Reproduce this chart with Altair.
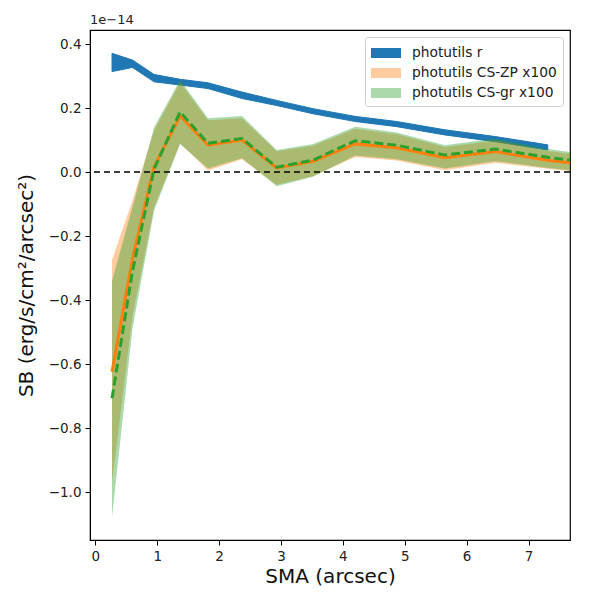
import altair as alt
import pandas as pd

# semi-major axis (arcsec)
sma_r = [0.27, 0.60, 0.95, 1.37, 1.82, 2.37, 2.93, 3.52, 4.20, 4.87, 5.65, 6.46, 7.31]
sma_cs = [0.27, 0.60, 0.95, 1.37, 1.82, 2.37, 2.93, 3.52, 4.20, 4.87, 5.65, 6.46, 7.31, 7.67]

# photutils r band (units of 1e-14)
r_lo = [0.314, 0.327, 0.282, 0.272, 0.261, 0.230, 0.208, 0.182, 0.158, 0.142, 0.116, 0.095, 0.069]
r_hi = [0.371, 0.350, 0.305, 0.290, 0.279, 0.250, 0.224, 0.198, 0.174, 0.158, 0.132, 0.111, 0.085]

# photutils CS-ZP x100
zp_mid = [-0.624, -0.27, 0.017, 0.175, 0.084, 0.100, 0.013, 0.034, 0.088, 0.076, 0.045, 0.064, 0.037, 0.029]
zp_lo = [-0.97, -0.45, -0.11, 0.09, 0.005, 0.040, -0.040, -0.012, 0.047, 0.036, 0.006, 0.029, 0.010, 0.003]
zp_hi = [-0.275, -0.09, 0.13, 0.28, 0.162, 0.168, 0.065, 0.082, 0.135, 0.118, 0.078, 0.099, 0.066, 0.057]

# photutils CS-gr x100
gr_mid = [-0.707, -0.31, 0.010, 0.188, 0.090, 0.105, 0.015, 0.0375, 0.098, 0.084, 0.053, 0.072, 0.046, 0.0375]
gr_lo = [-1.077, -0.49, -0.12, 0.088, 0.011, 0.043, -0.044, -0.015, 0.052, 0.040, 0.011, 0.034, 0.013, 0.006]
gr_hi = [-0.34, -0.11, 0.14, 0.288, 0.168, 0.175, 0.069, 0.0875, 0.142, 0.124, 0.084, 0.105, 0.072, 0.063]

names = ["photutils r", "photutils CS-ZP x100", "photutils CS-gr x100"]
colors = ["#1f77b4", "#ff7f0e", "#2ca02c"]

df_r = pd.DataFrame({"sma": sma_r, "lo": r_lo, "hi": r_hi, "series": names[0]})
df_zp = pd.DataFrame({"sma": sma_cs, "lo": zp_lo, "hi": zp_hi, "mid": zp_mid, "series": names[1]})
df_gr = pd.DataFrame({"sma": sma_cs, "lo": gr_lo, "hi": gr_hi, "mid": gr_mid, "series": names[2]})

xscale = alt.Scale(domain=[-0.086, 7.67], nice=False, zero=False)
yscale = alt.Scale(domain=[-1.15, 0.444], nice=False, zero=False)

X = alt.X("sma:Q", scale=xscale, title="SMA (arcsec)",
          axis=alt.Axis(values=[0, 1, 2, 3, 4, 5, 6, 7], format="d"))
Y = alt.Y("lo:Q", scale=yscale, title="SB (erg/s/cm²/arcsec²)",
          axis=alt.Axis(values=[-1.0, -0.8, -0.6, -0.4, -0.2, 0.0, 0.2, 0.4], format=".1f"))

color = alt.Color("series:N", title=None,
                  scale=alt.Scale(domain=names, range=colors),
                  legend=alt.Legend(
                      orient="top-right", offset=7,
                      symbolType="M-1,-0.5H2V0.5H-1Z", symbolSize=400,
                      symbolStrokeWidth=0, labelOffset=21,
                      labelFontSize=13.8, labelFont="DejaVu Sans", labelColor="#222",
                      fillColor="white", strokeColor="#cccccc", cornerRadius=3,
                      padding=6, rowPadding=3))
opacity = alt.Opacity("series:N", title=None,
                      scale=alt.Scale(type="ordinal", domain=names, range=[1.0, 0.4, 0.4]))

band_r = alt.Chart(df_r).mark_area(clip=True, stroke="#1f77b4", strokeWidth=1).encode(
    x=X, y=Y, y2="hi:Q", color=color, opacity=opacity)
band_zp = alt.Chart(df_zp).mark_area(clip=True).encode(
    x=X, y=Y, y2="hi:Q", color=color, opacity=opacity)
band_gr = alt.Chart(df_gr).mark_area(clip=True).encode(
    x=X, y=Y, y2="hi:Q", color=color, opacity=opacity)

line_zp = alt.Chart(df_zp).mark_line(clip=True, color="#ff7f0e", strokeWidth=3).encode(
    x="sma:Q", y="mid:Q")
line_gr = alt.Chart(df_gr).mark_line(clip=True, color="#2ca02c", strokeWidth=3,
                                     strokeDash=[9, 4]).encode(x="sma:Q", y="mid:Q")

zero = alt.Chart(pd.DataFrame({"z": [0.0]})).mark_rule(
    color="black", strokeWidth=1.5, strokeDash=[6, 4]).encode(y="z:Q")

chart = alt.layer(band_r, band_zp, band_gr, line_zp, line_gr, zero).properties(
    width=480, height=510,
    autosize=alt.AutoSizeParams(type="none"),
    padding={"left": 82, "top": 22, "right": 14, "bottom": 52},
    title=alt.TitleParams(text="1e−14", anchor="start", frame="group", fontSize=13,
                          fontWeight="normal", font="DejaVu Sans", color="#222", offset=3),
).configure_view(stroke="black", strokeWidth=1.2).configure_axis(
    grid=False, domainColor="black", tickColor="black", tickSize=5, tickWidth=1,
    labelFont="DejaVu Sans", labelFontSize=13.5, labelColor="#222",
    titleFont="DejaVu Sans", titleFontSize=20, titleFontWeight="normal", titleColor="#111",
).configure_axisX(titlePadding=4, labelPadding=4).configure_axisY(titlePadding=12, labelPadding=4)

chart.save("out.html", embed_options={"renderer": "svg", "actions": False})
